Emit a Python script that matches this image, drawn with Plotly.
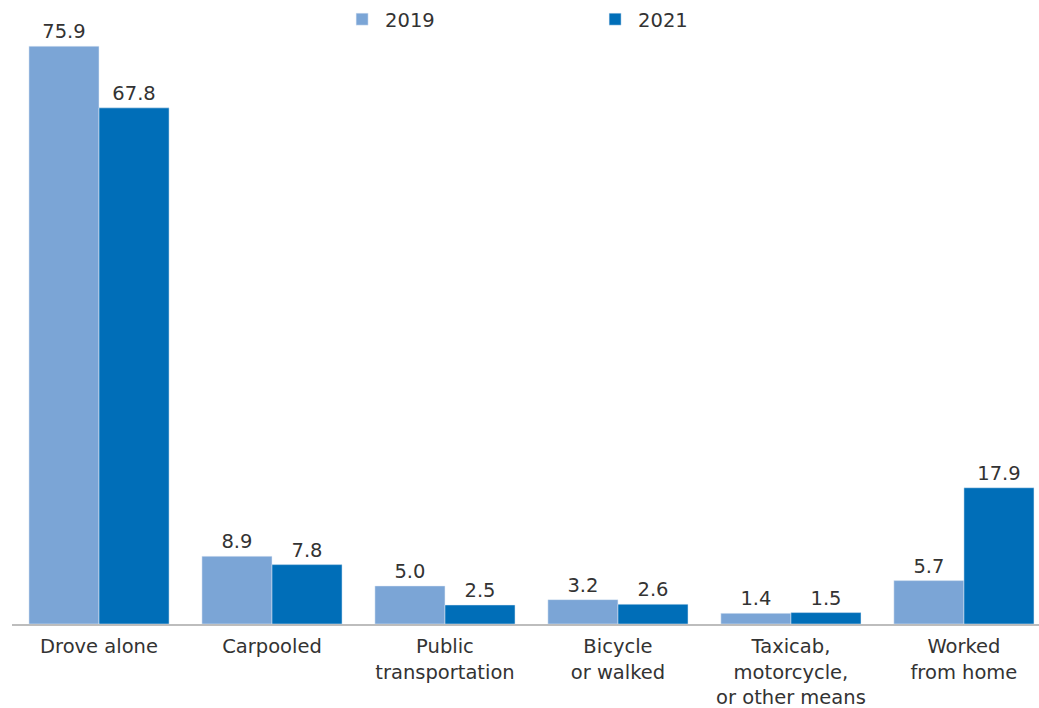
import plotly.graph_objects as go

categories = ["Drove alone", "Carpooled", "Public<br>transportation", "Bicycle<br>or walked",
              "Taxicab,<br>motorcycle,<br>or other means", "Worked<br>from home"]
values_2019 = [75.9, 8.9, 5.0, 3.2, 1.4, 5.7]
values_2021 = [67.8, 7.8, 2.5, 2.6, 1.5, 17.9]

c2019 = "#7BA5D6"
c2021 = "#006EB8"
font_family = "DejaVu Sans"
txt = "#333333"
fs = 19.5

fig = go.Figure()
fig.add_bar(x=categories, y=values_2019, name="2019", marker_color=c2019,
            text=[f"{v:.1f}" for v in values_2019], textposition="outside",
            textfont=dict(size=fs, color=txt, family=font_family), cliponaxis=False)
fig.add_bar(x=categories, y=values_2021, name="2021", marker_color=c2021,
            text=[f"{v:.1f}" for v in values_2021], textposition="outside",
            textfont=dict(size=fs, color=txt, family=font_family), cliponaxis=False)

fig.update_layout(
    width=1039, height=708,
    margin=dict(l=12, r=0, t=15, b=84, autoexpand=False),
    barmode="group", bargap=0.19, bargroupgap=0,
    plot_bgcolor="white", paper_bgcolor="white",
    font=dict(family=font_family, size=fs, color=txt),
    legend=dict(orientation="h", x=0.3185, xref="paper", y=1.0, yref="container",
                xanchor="left", yanchor="top", itemwidth=36,
                entrywidth=202, entrywidthmode="pixels",
                font=dict(size=fs, color=txt), bgcolor="rgba(0,0,0,0)"),
    xaxis=dict(range=[-0.503, 5.434], showline=True, linecolor="#BDBDBD", linewidth=1.5,
               ticks="outside", ticklen=4, tickcolor="rgba(0,0,0,0)",
               tickfont=dict(size=fs, color=txt, family=font_family)),
    yaxis=dict(range=[0, 80], visible=False, showgrid=False),
)
fig.write_html("out.html")
